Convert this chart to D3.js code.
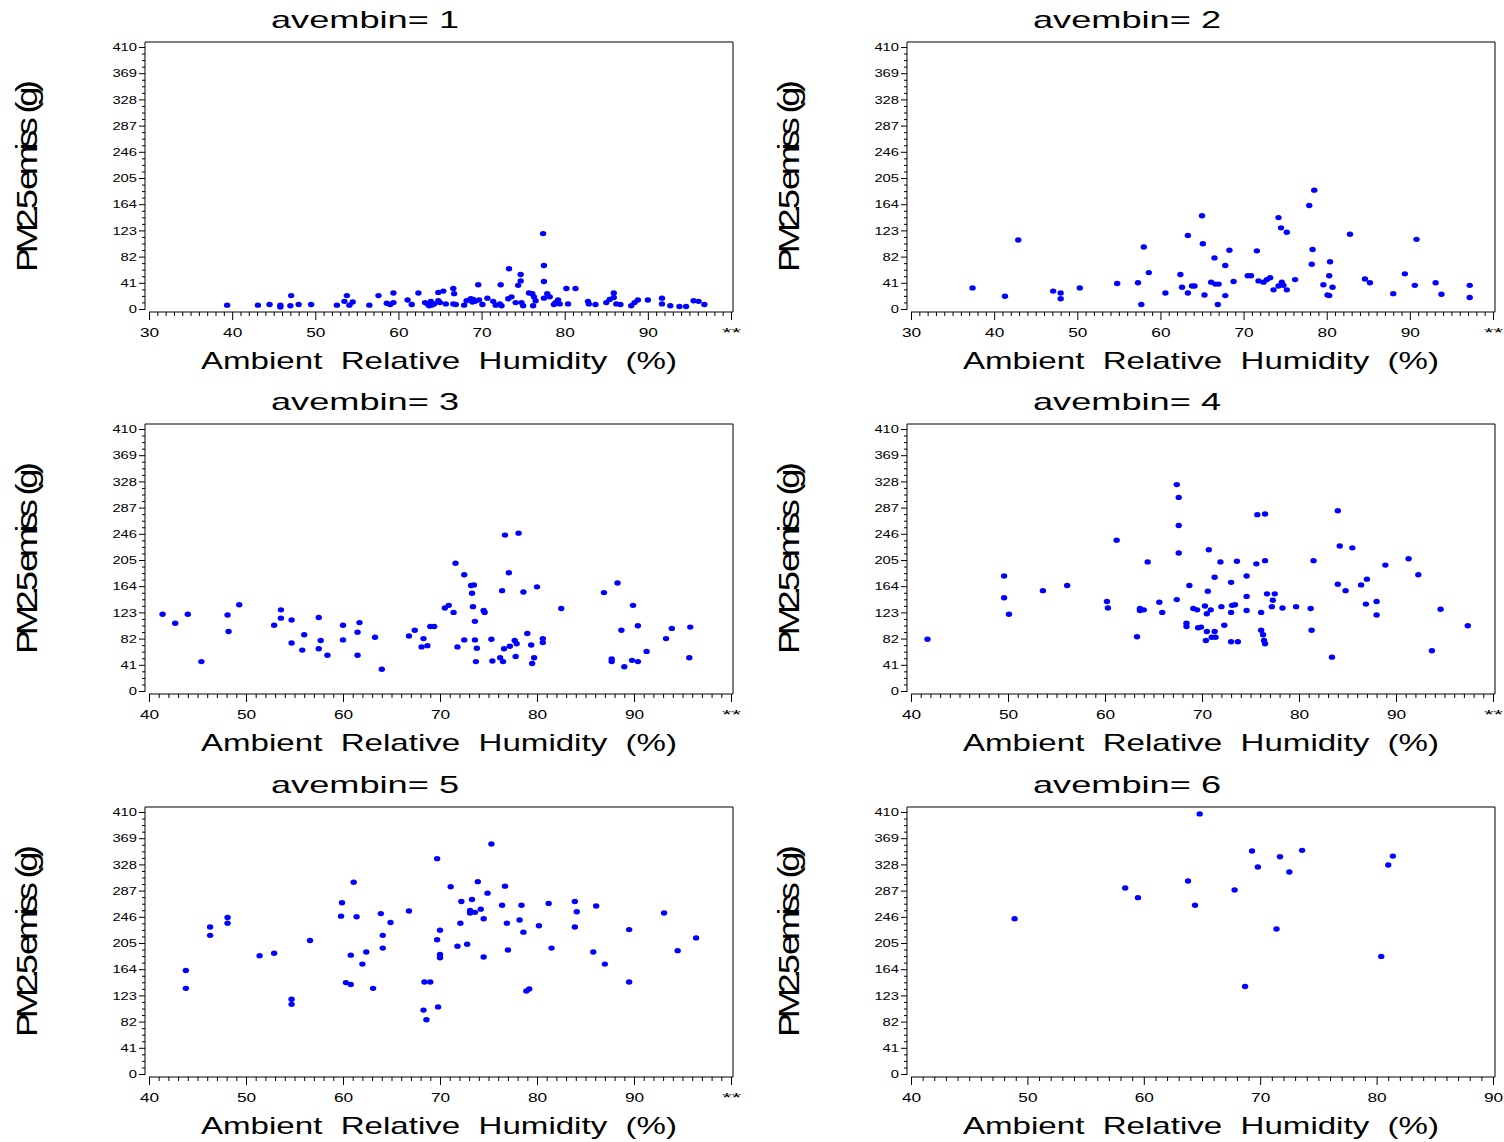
<!DOCTYPE html>
<html>
<head>
<meta charset="utf-8">
<script src="https://cdn.jsdelivr.net/npm/d3@7"></script>
<style>
  body { margin: 0; background: #fff; }
  svg { display: block; }
  text { font-family: "Liberation Sans", Arial, Helvetica, sans-serif; fill: #000; }
</style>
</head>
<body>
<svg id="chart" width="1504" height="1142"></svg>
<script>
// Panel identifiers (average-emission bins)
const bins = [1, 2, 3, 4, 5, 6];

// Shared y ticks (PM2.5 emissions, g)
const yTicks = [0, 41, 82, 123, 164, 205, 246, 287, 328, 369, 410];

// x-axis domain per panel (ambient RH, %)
const xDomains = [[30, 100], [30, 100], [40, 100], [40, 100], [40, 100], [40, 90]];
const xTickSets = [
  [30, 40, 50, 60, 70, 80, 90, 100],
  [30, 40, 50, 60, 70, 80, 90, 100],
  [40, 50, 60, 70, 80, 90, 100],
  [40, 50, 60, 70, 80, 90, 100],
  [40, 50, 60, 70, 80, 90, 100],
  [40, 50, 60, 70, 80, 90]
];
// label for the out-of-range 100% tick
const overflowLabel = "**";

// avembin = 1
const rh1 = [39.4,43.1,44.5,45.8,45.8,47.1,47.0,48.0,49.5,52.6,53.8,53.5,54.1,54.5,56.5,57.6,58.6,59.0,59.4,59.4,61.1,61.6,62.4,63.2,63.5,63.7,63.9,64.0,64.3,64.8,64.8,65.0,65.4,65.7,66.6,66.7,66.6,66.9,67.9,68.2,68.7,68.9,69.0,69.2,69.6,69.7,70.1,70.7,71.4,71.7,72.3,72.2,72.4,73.3,73.2,73.6,74.1,74.4,74.7,74.7,74.8,75.0,75.7,76.1,76.2,76.3,76.5,77.4,77.5,77.5,77.5,77.9,78.2,78.7,78.9,79.2,79.4,80.2,80.4,81.3,82.8,82.9,83.7,85.0,85.4,85.9,85.9,86.2,86.7,88.0,88.4,88.8,90.0,91.7,91.7,92.7,93.8,94.6,95.5,96.1,96.8];
const pm1 = [6,6,7,6,3,21,5,7,7,6,21,12,6,11,6,21,9,7,25,10,14,7,25,10,8,5,12,6,8,13,26,10,28,8,32,24,8,7,6,13,16,11,15,12,38,14,7,17,12,6,38,8,5,63,16,19,10,37,54,44,10,5,25,24,5,19,13,118,68,43,17,24,19,7,10,14,8,32,8,32,12,8,7,10,15,25,18,8,7,5,10,14,14,17,8,5,4,4,13,12,7];

// avembin = 2
const rh2 = [37.4,41.3,42.9,47.1,48.0,48.0,50.3,54.8,57.3,57.7,58.0,58.6,60.6,62.4,62.6,63.3,63.3,63.8,64.1,65.0,65.1,65.3,66.1,66.5,66.6,66.9,67.0,67.8,67.8,68.3,68.8,70.5,70.9,71.6,71.8,72.4,72.8,73.2,73.6,74.2,74.2,74.5,74.6,74.8,75.2,75.2,76.2,77.9,78.2,78.3,78.5,79.6,80.1,80.3,80.4,80.3,80.7,82.8,84.6,85.2,88.0,89.4,90.6,90.8,93.1,93.8,97.2,97.2];
const pm2 = [33,20,108,28,25,16,33,40,41,7,97,57,25,54,34,115,25,36,36,146,102,22,42,80,39,7,39,68,21,92,43,52,52,91,44,42,46,49,30,143,36,127,42,37,120,30,46,162,70,93,186,38,22,52,74,21,34,117,47,41,24,55,37,109,41,23,37,18];

// avembin = 3
const rh3 = [41.4,42.7,44.0,45.4,48.1,48.2,49.3,52.9,53.6,53.6,54.7,54.7,55.8,56.0,57.5,57.5,57.7,58.4,60.0,60.0,61.5,61.7,61.5,63.3,64.0,66.8,67.4,68.1,68.3,68.7,69.0,69.4,70.5,70.9,71.4,71.6,71.8,72.5,72.5,73.2,73.5,73.3,73.4,73.6,73.6,73.8,73.7,74.5,74.6,75.3,75.4,76.2,76.4,76.5,76.6,76.7,77.1,77.2,77.7,77.9,77.8,78.1,78.6,79.0,79.4,79.5,79.7,80.0,80.6,80.6,82.5,86.9,87.7,87.7,88.3,88.7,89.0,89.9,89.8,90.4,90.4,91.3,93.3,93.9,95.7,95.8];
const pm3 = [120,106,120,46,119,93,135,103,127,114,111,75,64,88,115,66,79,56,103,80,92,107,56,84,34,86,95,69,82,71,101,101,130,134,123,200,69,182,80,165,166,153,132,109,80,67,46,126,123,81,47,52,157,46,66,244,185,70,79,74,54,247,155,90,72,43,52,163,82,76,129,154,50,46,169,95,38,134,48,102,46,62,82,98,52,100];

// avembin = 4
const rh4 = [41.7,49.6,49.6,50.1,53.6,56.1,60.2,60.3,61.2,63.3,63.6,63.6,64.0,64.4,65.6,65.9,67.4,67.6,67.6,67.6,67.4,68.4,68.4,68.7,69.1,69.5,69.6,69.9,70.3,70.4,70.5,70.5,70.6,70.7,70.9,71.0,71.3,71.3,71.4,71.9,72.0,72.3,73.0,73.0,73.0,73.1,73.4,73.6,73.7,74.6,74.6,74.6,75.6,75.7,76.1,76.1,76.3,76.4,76.5,76.5,76.5,76.7,77.5,77.3,77.2,78.3,79.7,81.2,81.3,81.5,83.4,84.0,84.0,84.2,84.8,85.5,86.4,86.9,87.0,88.0,88.0,88.9,91.3,92.3,93.7,94.6,97.4];
const pm4 = [81,180,146,120,157,165,140,130,236,85,129,126,127,202,139,123,323,303,259,216,143,106,101,165,129,127,99,100,133,79,121,93,156,221,127,84,178,93,84,202,132,103,170,123,77,134,135,203,77,180,148,126,199,276,123,95,88,79,74,204,277,152,152,142,132,130,132,129,95,204,53,282,167,227,157,224,166,136,175,140,119,197,207,182,63,128,102];

// avembin = 5
const rh5 = [43.8,43.8,46.3,46.3,48.1,48.1,51.4,52.9,54.7,54.7,56.6,59.8,59.9,60.3,60.8,60.8,61.1,61.4,62.0,62.4,63.1,63.9,64.1,64.1,64.9,66.8,68.3,68.6,68.4,69.0,69.7,69.7,69.8,70.0,70.0,70.0,71.1,71.8,72.1,72.2,72.8,73.1,73.1,73.3,73.6,73.9,74.2,74.5,74.5,74.9,75.3,76.4,76.7,76.9,77.0,78.2,78.4,78.6,78.9,79.2,80.2,81.2,81.5,83.9,83.9,84.1,85.8,86.1,87.0,89.5,89.5,93.1,94.5,96.4];
const pm5 = [162,134,230,217,245,236,185,189,117,109,209,247,268,143,140,186,300,246,172,191,134,251,217,197,237,255,100,85,144,144,210,337,105,225,187,182,293,200,236,270,203,256,252,273,253,301,258,243,183,283,360,264,294,236,194,241,264,222,130,133,232,267,197,270,230,254,191,263,172,226,144,252,193,213];

// avembin = 6
const rh6 = [48.9,58.4,59.5,63.8,64.4,64.8,67.8,68.7,69.3,69.8,71.4,71.7,72.5,73.6,80.4,81.0,81.4];
const pm6 = [243,291,276,302,264,407,288,137,349,324,227,340,316,350,184,327,341];

const rhSeries = [rh1, rh2, rh3, rh4, rh5, rh6];
const pmSeries = [pm1, pm2, pm3, pm4, pm5, pm6];

const titleText = "avembin= ";
const xTitle = "Ambient  Relative  Humidity  (%)";
const yTitle = "PM2.5 emiss  (g)";

const svg = d3.select("#chart");

// layout of the 3 x 2 grid
const colLeft = [145, 907];    // y-axis line
const rowTop = [42, 424, 807]; // frame top
const frameW = 588;
const frameH = 270;

bins.forEach((bin, i) => {
  const col = i % 2, row = Math.floor(i / 2);
  const L = colLeft[col], T = rowTop[row];
  const R = L + frameW, B = T + frameH;
  const g = svg.append("g");

  const x = d3.scaleLinear().domain(xDomains[i]).range([L + 4, R - 2]);
  const y = d3.scaleLinear().domain([0, 410]).range([B - 3, T + 5]);

  // frame
  g.append("path")
    .attr("d", `M${L},${B - 2}V${T}H${R}V${B}H${L + 4}`)
    .attr("fill", "none").attr("stroke", "#000").attr("stroke-width", 1);

  // y axis: minor then major ticks
  const yMinor = [];
  for (let v = 0; v < 410; v += 41) for (let k = 1; k < 4; k++) yMinor.push(v + k * 41 / 4);
  const yMinorAxis = g.append("g").attr("transform", `translate(${L},0)`)
    .call(d3.axisLeft(y).tickValues(yMinor).tickSize(3).tickFormat(""));
  const yAxis = g.append("g").attr("transform", `translate(${L},0)`)
    .call(d3.axisLeft(y).tickValues(yTicks).tickSize(6).tickPadding(2));
  [yMinorAxis, yAxis].forEach(a => { a.select(".domain").remove(); a.attr("font-family", null).attr("font-size", null); });
  yAxis.selectAll("text")
    .attr("font-size", 11.5)
    .attr("textLength", d => String(d).length * 8.2)
    .attr("lengthAdjust", "spacingAndGlyphs");

  // x axis: minor then major ticks
  const [x0, x1] = xDomains[i];
  const xMinor = d3.range(x0, x1 + 0.001, 1).filter(v => v % 10 !== 0);
  const xMinorAxis = g.append("g").attr("transform", `translate(0,${B})`)
    .call(d3.axisBottom(x).tickValues(xMinor).tickSize(4).tickFormat(""));
  const xAxis = g.append("g").attr("transform", `translate(0,${B})`)
    .call(d3.axisBottom(x).tickValues(xTickSets[i]).tickSize(8).tickPadding(8)
      .tickFormat(d => d >= 100 ? overflowLabel : String(d)));
  [xMinorAxis, xAxis].forEach(a => { a.select(".domain").remove(); a.attr("font-family", null).attr("font-size", null); });
  xAxis.selectAll("text")
    .attr("font-size", 12)
    .attr("textLength", d => (d >= 100 ? 2 : String(d).length) * 9.6)
    .attr("lengthAdjust", "spacingAndGlyphs");

  // points
  g.append("g").selectAll("ellipse")
    .data(rhSeries[i].map((v, k) => [v, pmSeries[i][k]]))
    .join("ellipse")
    .attr("cx", d => x(d[0]))
    .attr("cy", d => y(d[1]))
    .attr("rx", 3.2).attr("ry", 2.7)
    .attr("fill", "#0000ff");

  // panel title
  g.append("text")
    .attr("x", L + 220).attr("y", T - 14)
    .attr("text-anchor", "middle")
    .attr("font-size", 24)
    .attr("textLength", 188)
    .attr("lengthAdjust", "spacingAndGlyphs")
    .style("white-space", "pre")
    .text(titleText + bin);

  // x title
  g.append("text")
    .attr("x", (L + R) / 2).attr("y", B + 57)
    .attr("text-anchor", "middle")
    .attr("font-size", 24)
    .attr("textLength", 476)
    .attr("lengthAdjust", "spacingAndGlyphs")
    .style("white-space", "pre")
    .text(xTitle);

  // y title (wide glyphs, tight spacing)
  g.append("text")
    .attr("transform", `translate(${L - 108},${(T + B) / 2 - 1}) rotate(-90) scale(1.25,1)`)
    .attr("text-anchor", "middle")
    .attr("font-size", 29)
    .attr("textLength", 192 / 1.25)
    .attr("lengthAdjust", "spacing")
    .style("white-space", "pre")
    .text(yTitle);
});
</script>
</body>
</html>
